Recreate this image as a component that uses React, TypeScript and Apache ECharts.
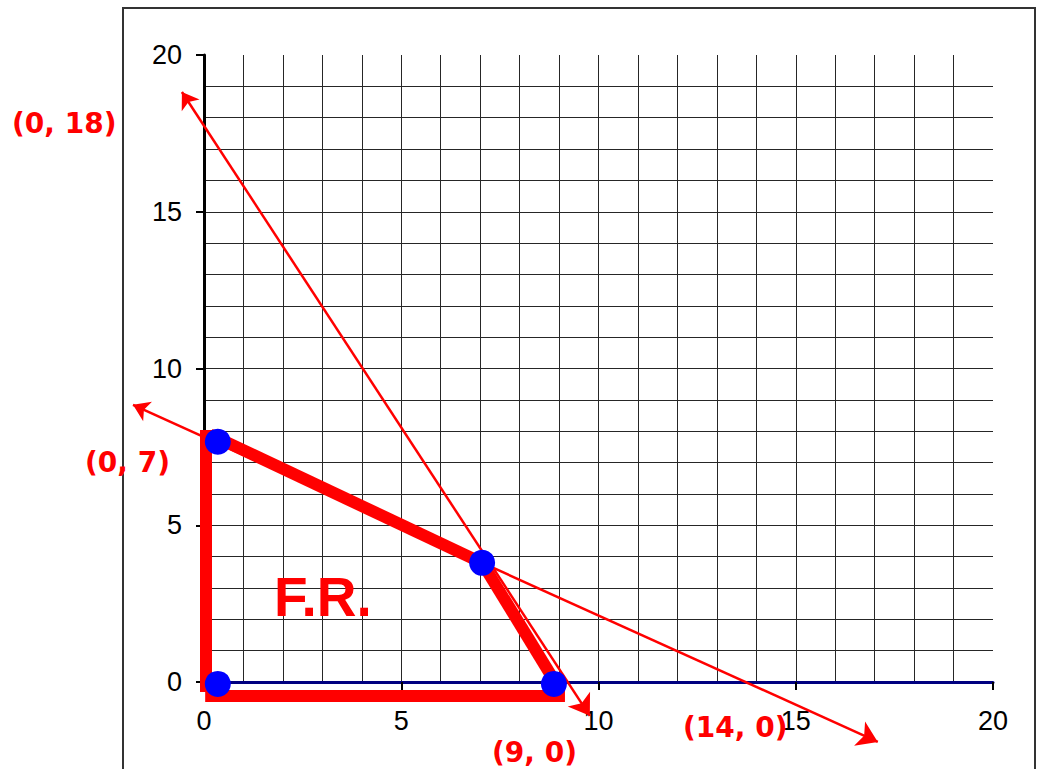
import React, { useEffect, useRef } from "react";
import * as echarts from "echarts";

// Axis range and labelled tick step (unit grid drawn between labelled ticks)
const axisMin = 0;
const axisMax = 20;
const labelStep = 5;

// Corner points of the feasible region
const vertexPoints: number[][] = [
  [0.35, -0.06],
  [0.35, 7.66],
  [7.05, 3.8],
  [8.87, -0.06],
];

// Thick red boundary strokes of the feasible region
const boundaryEdges: number[][][] = [
  [[0.05, 8.04], [0.05, -0.32]],
  [[0.03, -0.45], [9.15, -0.45]],
  [[0.15, 7.9], [7.05, 3.8]],
  [[7.05, 3.8], [8.9, 0.0]],
];

// Constraint lines, arrow-tipped at both ends
const constraintLines: number[][][] = [
  [[-0.56, 18.82], [9.78, -1.08]],
  [[-1.8, 8.84], [17.08, -1.91]],
];

// Intercept annotations
const interceptLabels = ["(0, 18)", "(0, 7)", "(9, 0)", "(14, 0)"];
const regionLabel = "F.R.";

const RED = "#ff0000";
const GRID_COLOR = "#262626";
const TICK_FONT = "Liberation Sans";

export default function App() {
  const ref = useRef<HTMLDivElement>(null);

  useEffect(() => {
    if (!ref.current) return;
    const chart = echarts.init(ref.current, undefined, { renderer: "svg" });

    const axisCommon = {
      type: "value" as const,
      min: axisMin,
      max: axisMax,
      interval: labelStep,
      minorTick: { show: false, splitNumber: labelStep },
      minorSplitLine: {
        show: true,
        lineStyle: { color: GRID_COLOR, width: 1 },
      },
      splitLine: {
        show: true,
        showMinLine: false,
        showMaxLine: false,
        lineStyle: { color: GRID_COLOR, width: 1 },
      },
      axisTick: {
        show: true,
        length: 8,
        lineStyle: { color: "#000", width: 2 },
      },
    };

    const labelText = (text: string, x: number, y: number) => ({
      type: "text",
      z: 100,
      style: {
        text,
        x,
        y,
        align: "left",
        verticalAlign: "middle",
        font: 'bold 28px "DejaVu Sans"',
        fill: RED,
      },
    });

    chart.setOption({
      animation: false,
      backgroundColor: "#ffffff",
      grid: {
        left: 204,
        right: 44,
        top: 55,
        bottom: 87,
        containLabel: false,
      },
      xAxis: {
        ...axisCommon,
        axisLine: {
          show: true,
          onZero: false,
          lineStyle: { color: "#000080", width: 3 },
        },
        axisLabel: {
          color: "#000",
          fontFamily: TICK_FONT,
          fontSize: 27,
          margin: 25,
        },
      },
      yAxis: {
        ...axisCommon,
        axisLine: {
          show: true,
          onZero: false,
          lineStyle: { color: "#000", width: 3 },
        },
        axisLabel: {
          color: "#000",
          fontFamily: TICK_FONT,
          fontSize: 27,
          margin: 22,
        },
      },
      graphic: [
        {
          type: "rect",
          z: -10,
          shape: { x: 123, y: 8, width: 912, height: 800 },
          style: { fill: "none", stroke: "#333", lineWidth: 2 },
          silent: true,
        },
        labelText(interceptLabels[0], 12, 123),
        labelText(interceptLabels[1], 85, 462),
        labelText(interceptLabels[2], 492, 752),
        labelText(interceptLabels[3], 683, 727),
        {
          type: "text",
          z: 100,
          style: {
            text: regionLabel,
            x: 274,
            y: 597,
            align: "left",
            verticalAlign: "middle",
            font: 'bold 55px "Liberation Sans"',
            fill: RED,
          },
        },
      ],
      series: [
        {
          type: "lines",
          coordinateSystem: "cartesian2d",
          clip: false,
          z: 3,
          symbol: ["none", "none"],
          lineStyle: { color: RED, width: 12, opacity: 1, cap: "butt" },
          data: boundaryEdges.map((coords) => ({ coords })),
        },
        {
          type: "lines",
          coordinateSystem: "cartesian2d",
          clip: false,
          z: 4,
          symbol: ["arrow", "arrow"],
          symbolSize: [16, 20],
          lineStyle: { color: RED, width: 2.5, opacity: 1 },
          data: constraintLines.map((coords) => ({ coords })),
        },
        {
          type: "scatter",
          z: 5,
          clip: false,
          symbol: "circle",
          symbolSize: 26,
          itemStyle: { color: "#0000ff", opacity: 1 },
          data: vertexPoints,
        },
      ],
    });

    return () => chart.dispose();
  }, []);

  return (
    <div
      ref={ref}
      style={{ position: "fixed", left: 0, top: 0, width: 1037, height: 769 }}
    />
  );
}
